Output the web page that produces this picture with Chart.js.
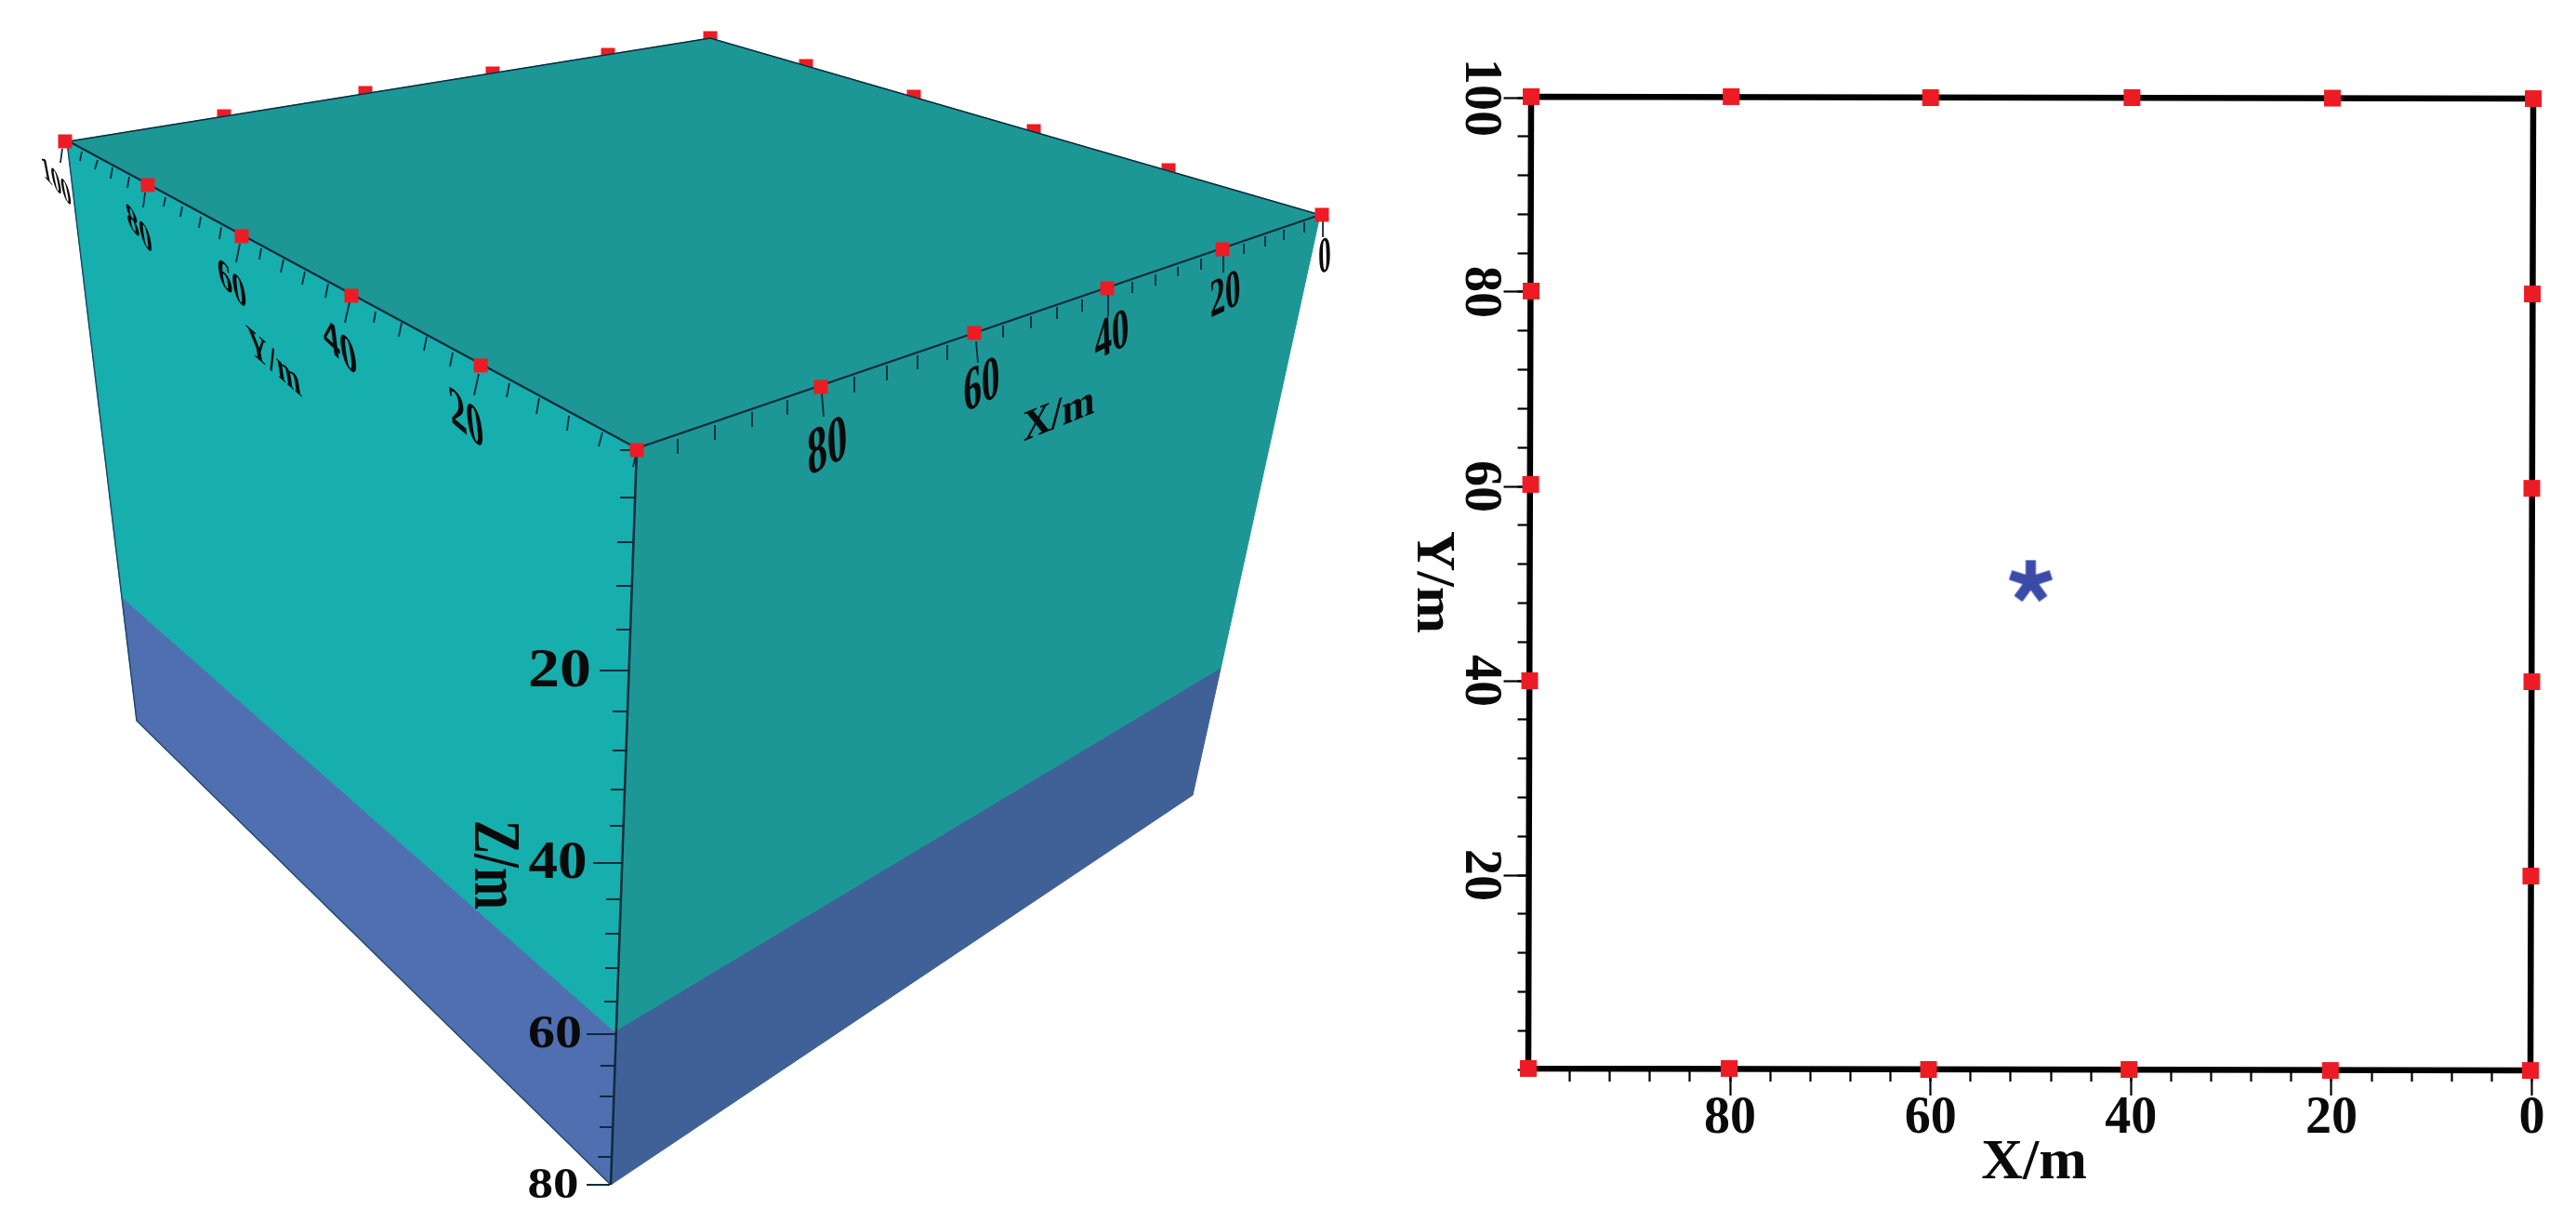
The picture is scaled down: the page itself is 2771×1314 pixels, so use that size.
<!DOCTYPE html>
<html>
<head>
<meta charset="utf-8">
<title>Survey box</title>
<script src="https://cdn.jsdelivr.net/npm/chart.js@4/dist/chart.umd.js"></script>
<style>
  html, body { margin: 0; padding: 0; background: #fff; }
  canvas { position: absolute; top: 0; }
  #box { left: 0; }
  #plan { left: 1500px; }
</style>
</head>
<body>
<canvas id="box" width="1500" height="1314"></canvas>
<canvas id="plan" width="1271" height="1314"></canvas>
<script>
// ---- right panel: plan view, metres ----
const xMajorLabels = { 80: "80", 60: "60", 40: "40", 20: "20", 0: "0" };
const yMajorLabels = { 100: "100", 80: "80", 60: "60", 40: "40", 20: "20" };

const frameX = [99.86, -0.14, 0.14, 100.14, 99.86];
const frameY = [100.1, 99.9, -0.1, 0.1, 100.1];

const topMarkX = [99.86, 79.9, 60, 39.9, 19.9, -0.14];
const topMarkY = [100.1, 100.1, 100, 100, 99.95, 99.9];
const bottomMarkX = [100.14, 80.1, 60.2, 40.2, 20.1, 0.14];
const bottomMarkY = [0.1, 0.1, 0, 0, -0.1, -0.1];
const leftMarkX = [99.86, 99.9, 100, 100.1];
const leftMarkY = [80.1, 60.2, 40, 20.1];
const rightMarkX = [-0.05, 0, 0, 0.1];
const rightMarkY = [79.8, 59.8, 39.9, 19.9];
const sourceX = [50];
const sourceY = [50.3];

// ---- left panel: the box as projected on the page ----
const topFaceX = [74, 764, 1420, 685, 74];
const topFaceY = [152, 41, 231, 482, 152];
const leftUpperX = [72, 685, 661, 131, 72];
const leftUpperY = [152, 482, 1110, 643, 152];
const leftLowerX = [131, 661, 657, 147, 131];
const leftLowerY = [643, 1110, 1274, 775, 643];
const rightUpperX = [685, 1420, 1313, 661, 685];
const rightUpperY = [482, 231, 719, 1110, 482];
const rightLowerX = [661, 1313, 1283, 657, 661];
const rightLowerY = [1110, 719, 855, 1274, 1110];

const farMarkX = [241, 393, 530, 654, 764, 867, 983, 1112, 1257];
const farMarkY = [125, 100, 79, 59, 41, 71, 104, 141, 183];
const nearYMarkX = [70, 159, 260, 378, 517, 685];
const nearYMarkY = [152, 199, 254, 318, 393, 484];
const nearXMarkX = [883, 1048, 1191, 1315, 1422];
const nearXMarkY = [416, 358, 310, 268, 231];

const yEdgeTickX = [88, 105, 121, 139, 178, 196, 216, 238, 281, 305, 328, 353, 404, 432, 459, 487, 548, 580, 612, 648, 67, 156, 258, 376, 515, 685];
const yEdgeTickY = [163, 172, 180, 190, 212, 222, 233, 244, 267, 279, 292, 305, 335, 347, 362, 379, 412, 428, 447, 465, 160, 207, 262, 325, 402, 484];
const yEdgeTipX = [86, 102, 119, 137, 176, 194, 214, 236, 279, 302, 325, 350, 402, 429, 456, 484, 545, 577, 610, 644, 65, 154, 254, 371, 510, 681];
const yEdgeTipY = [173, 182, 192, 202, 222, 233, 245, 257, 279, 293, 306, 320, 347, 362, 377, 394, 427, 445, 463, 480, 175, 223, 282, 347, 425, 502];

const xEdgeTickX = [729, 769, 809, 847, 884, 919, 954, 987, 1019, 1050, 1079, 1109, 1137, 1164, 1192, 1218, 1243, 1267, 1292, 1316, 1338, 1361, 1381, 1403, 1423];
const xEdgeTickY = [472, 457, 443, 430, 423, 405, 393, 382, 371, 367, 350, 340, 330, 322, 317, 303, 295, 287, 278, 275, 262, 254, 247, 239, 237];
const xEdgeTipX = [729, 769, 809, 847, 886, 919, 954, 987, 1019, 1052, 1079, 1109, 1137, 1164, 1192, 1218, 1243, 1267, 1292, 1316, 1338, 1361, 1381, 1403, 1423];
const xEdgeTipY = [488, 473, 459, 446, 448, 422, 409, 397, 387, 390, 363, 353, 343, 335, 340, 315, 307, 297, 290, 293, 273, 265, 258, 250, 255];

const zTickY = [484, 535, 583, 630, 677, 721, 765, 807, 849, 888, 928, 967, 1004, 1041, 1077, 1112, 1146, 1179, 1212, 1244, 1274];
const zTickX = [685, 683, 682, 680, 679, 677, 676, 675, 673, 671, 670, 669, 666, 665, 664, 663, 661, 660, 660, 658, 656];
const zTipX = [667, 667, 664, 663, 663, 645, 659, 659, 657, 656, 638, 652, 651, 651, 650, 631, 646, 645, 645, 643, 631];

// helpers
const FONT = '"Liberation Serif", serif';

function pts(xs, ys) {
  return xs.map((x, i) => ({ x: x, y: ys[i] }));
}

// separate little strokes, a null point breaks the line
function strokes(x0, y0, x1, y1) {
  let out = [];
  x0.forEach((x, i) => {
    out.push({ x: x, y: y0[i] }, { x: x1[i], y: y1[i] }, { x: null, y: null });
  });
  return out;
}

let drawCount = 0;
function shape(xs, ys, color) {
  return {
    data: pts(xs, ys), fill: "shape", backgroundColor: color, borderColor: color,
    borderWidth: 1, pointRadius: 0, tension: 0, clip: false, order: -drawCount++,
  };
}
function line(data, color, width) {
  return {
    data: data, fill: false, borderColor: color, borderWidth: width,
    pointRadius: 0, tension: 0, clip: false, order: -drawCount++,
  };
}
function marks(xs, ys, size) {
  return {
    data: pts(xs, ys), showLine: false, pointStyle: "rect", pointRadius: size,
    pointBackgroundColor: "#ed1c24", pointBorderWidth: 0, clip: false, order: -drawCount++,
  };
}

// text laid on a slanted plane: u runs along the baseline, v runs down the glyph
const slantedText = {
  id: "slantedText",
  afterDatasetsDraw(chart, args, opts) {
    const ctx = chart.ctx;
    opts.items.forEach((t) => {
      ctx.save();
      ctx.transform(t.u[0] / 100, t.u[1] / 100, t.v[0] / 100, t.v[1] / 100, t.at[0], t.at[1]);
      ctx.font = (t.bold ? "bold " : "") + "100px " + FONT;
      ctx.textAlign = "center";
      ctx.textBaseline = "middle";
      ctx.fillStyle = "#0a0a0a";
      ctx.fillText(t.text, 0, 0);
      ctx.restore();
    });
  },
};

// ---- box ----
const edgeDark = "#0d2c3a";
drawCount = 0;
new Chart(document.getElementById("box"), {
  type: "line",
  plugins: [slantedText],
  data: {
    datasets: [
      marks(farMarkX, farMarkY, 10.6),
      shape(topFaceX, topFaceY, "#1d9696"),
      shape(rightUpperX, rightUpperY, "#1d9696"),
      shape(rightLowerX, rightLowerY, "#406098"),
      shape(leftUpperX, leftUpperY, "#17aeae"),
      shape(leftLowerX, leftLowerY, "#4f6fb0"),
      line(pts([72, 147, 657], [152, 775, 1274]), "#1f4a66", 1.5),
      line(pts([74, 764, 1420], [152, 41, 231]), edgeDark, 1.5),
      line(pts([74, 685, 1420], [152, 482, 231]), edgeDark, 2.2),
      line(pts([685, 657], [482, 1274]), edgeDark, 2.5),
      line(strokes(yEdgeTickX, yEdgeTickY, yEdgeTipX, yEdgeTipY), edgeDark, 1.8),
      line(strokes(xEdgeTickX, xEdgeTickY, xEdgeTipX, xEdgeTipY), edgeDark, 1.8),
      line(strokes(zTickX, zTickY, zTipX, zTickY), edgeDark, 2),
      marks(nearYMarkX, nearYMarkY, 10.6),
      marks(nearXMarkX, nearXMarkY, 10.6),
    ],
  },
  options: {
    responsive: false,
    animation: false,
    devicePixelRatio: 1,
    events: [],
    layout: { padding: 0, autoPadding: false },
    scales: {
      x: { type: "linear", min: 0, max: 1500, display: false },
      y: { type: "linear", min: 0, max: 1314, reverse: true, display: false },
    },
    plugins: {
      legend: { display: false },
      tooltip: { enabled: false },
      slantedText: {
        items: [
          { text: "100", at: [61, 197], u: [21, 23], v: [7, 37], bold: true },
          { text: "80", at: [150, 248], u: [28, 35], v: [6, 40], bold: true },
          { text: "60", at: [250, 307], u: [31, 31], v: [6, 46], bold: true },
          { text: "40", at: [366, 375], u: [37, 35], v: [7, 54], bold: true },
          { text: "20", at: [502, 453], u: [37, 31], v: [7, 62], bold: true },
          { text: "Y/m", at: [295, 391], u: [31, 27], v: [7, 45], bold: true },
          { text: "0", at: [1425, 278], u: [27, -12], v: [1, 54], bold: true },
          { text: "20", at: [1318, 319], u: [33, -16], v: [2, 57], bold: true },
          { text: "40", at: [1196, 363], u: [37, -18], v: [2, 60], bold: true },
          { text: "60", at: [1056, 417], u: [39, -20], v: [2, 66], bold: true },
          { text: "80", at: [890, 483], u: [43, -22], v: [3, 70], bold: true },
          { text: "X/m", at: [1139, 447], u: [42, -17], v: [1, 46], bold: true },
          { text: "20", at: [602, 723], u: [68, 0], v: [0, 60], bold: true },
          { text: "40", at: [600, 929], u: [63, 0], v: [0, 57], bold: true },
          { text: "60", at: [597, 1113], u: [58, 0], v: [0, 50], bold: true },
          { text: "80", at: [595, 1276], u: [55, 0], v: [0, 46], bold: true },
          { text: "Z/m", at: [530, 930], u: [0, 54], v: [-72, 0], bold: true },
        ],
      },
    },
  },
});

// ---- plan ----
function starMark() {
  const c = document.createElement("canvas");
  c.width = 64;
  c.height = 64;
  const g = c.getContext("2d");
  g.translate(32, 33);
  g.strokeStyle = "#3b4ba8";
  g.lineWidth = 11;
  for (let i = 0; i < 5; i++) {
    g.beginPath();
    g.moveTo(0, 0);
    g.lineTo(0, -23);
    g.stroke();
    g.rotate((Math.PI * 2) / 5);
  }
  return c;
}

// fixed axis boxes, the minor axes sit inside at zero size so both share the plot edge
const fixWidth = (w) => (scale) => { scale.width = w; };
const fixHeight = (h) => (scale) => { scale.height = h; };

// no tick drawn at the unlabelled corner value
const axisGrid = (len, skip) => ({
  drawOnChartArea: false,
  tickLength: len,
  tickWidth: 2.2,
  tickColor: (ctx) => (ctx.tick && ctx.tick.value === skip ? "transparent" : "#000"),
});

drawCount = 0;
new Chart(document.getElementById("plan"), {
  type: "line",
  plugins: [slantedText],
  data: {
    datasets: [
      Object.assign(line(pts(frameX, frameY), "#000", 6.5), { borderJoinStyle: "miter" }),
      marks(topMarkX, topMarkY, 12.7),
      marks(bottomMarkX, bottomMarkY, 12.7),
      marks(leftMarkX, leftMarkY, 12.7),
      marks(rightMarkX, rightMarkY, 12.7),
      { data: pts(sourceX, sourceY), showLine: false, pointStyle: starMark(), pointRadius: 24, clip: false, order: -drawCount++ },
    ],
  },
  options: {
    responsive: false,
    animation: false,
    devicePixelRatio: 1,
    events: [],
    layout: { autoPadding: false, padding: { left: 25.5, right: 47.5, top: 105, bottom: 64 } },
    scales: {
      x: {
        type: "linear", position: "bottom", min: 0, max: 100, reverse: true, weight: 0,
        afterFit: fixHeight(100), grid: axisGrid(28, 100), border: { display: false },
        ticks: {
          stepSize: 20, autoSkip: false, maxRotation: 0, minRotation: 0, padding: -8, color: "#0a0a0a",
          font: { family: FONT, size: 56, weight: "bold" },
          callback: (v) => xMajorLabels[v] || "",
        },
      },
      xMinor: {
        type: "linear", position: "bottom", min: 0, max: 100, reverse: true, weight: -1,
        afterFit: fixHeight(0), grid: axisGrid(13, 100), border: { display: false },
        ticks: { stepSize: 4, autoSkip: false, display: false },
      },
      y: {
        type: "linear", position: "left", min: 0, max: 100, weight: 0,
        afterFit: fixWidth(120), grid: axisGrid(28, 0), border: { display: false },
        ticks: {
          stepSize: 20, autoSkip: false, minRotation: -90, maxRotation: 0, crossAlign: "center", padding: -16, color: "#0a0a0a",
          font: { family: FONT, size: 56, weight: "bold" },
          callback: (v) => yMajorLabels[v] || "",
        },
      },
      yMinor: {
        type: "linear", position: "left", min: 0, max: 100, weight: -1,
        afterFit: fixWidth(0), grid: axisGrid(13), border: { display: false },
        ticks: { stepSize: 4, autoSkip: false, display: false },
      },
    },
    plugins: {
      legend: { display: false },
      tooltip: { enabled: false },
      slantedText: {
        items: [
          { text: "X/m", at: [688, 1251], u: [62, 0], v: [0, 62], bold: true },
          { text: "Y/m", at: [40, 626], u: [0, 60], v: [-60, 0], bold: true },
        ],
      },
    },
  },
});
</script>
</body>
</html>
